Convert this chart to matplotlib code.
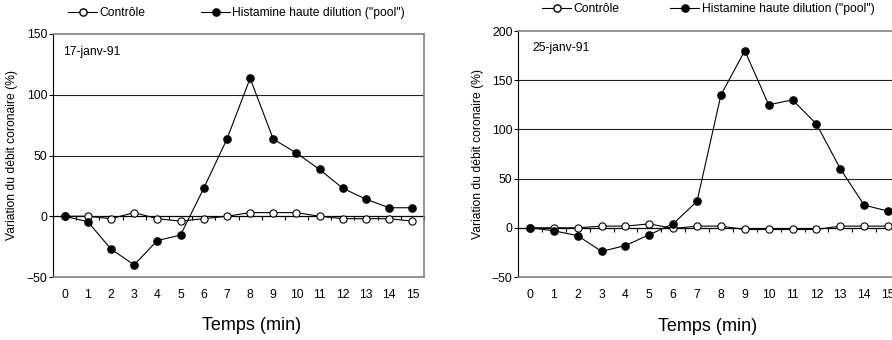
import numpy as np
import matplotlib as mpl
mpl.use("Agg")
import matplotlib.pyplot as plt
from matplotlib.lines import Line2D

plt.rcParams['font.family'] = ['Liberation Sans', 'DejaVu Sans']

# ── data ─────────────────────────────────────────────────────────────────────
temps = list(range(16))

date_1 = "17-janv-91"
controle_1 = [0, 0, -2, 3, -2, -4, -2, 0, 3, 3, 3, 0, -2, -2, -2, -4]
histamine_1 = [0, -4.5, -27, -40, -20, -15.5, 23, 63.5, 113.5, 63.5, 52, 38.5,
               23, 14, 7, 7]

date_2 = "25-janv-91"
controle_2 = [0, 0, 0, 1.7, 1.7, 4, -0.7, 1.7, 1.7, -1.7, -1.7, -1.7, -1.7,
              1.7, 1.7, 1.7]
histamine_2 = [0, -3, -8, -24, -18, -7, 4, 27, 135, 180, 125, 130, 105.5,
               60, 23, 17]

labels = ['Contrôle', 'Histamine haute dilution ("pool")']
ylabel = "Variation du débit coronaire (%)"
xlabel = "Temps (min)"

FS = 8.7
BORDER = '#808080'


def draw_panel(ax, ctrl, hist, date, ylim, yticks, date_xy, xlab_xy, ylab_x):
    ax.set_xlim(-0.5, len(temps) - 0.5)
    ax.set_ylim(*ylim)

    # gridlines at majors (excluding bottom/top)
    for yv in yticks[1:-1]:
        if yv != 0:
            ax.axhline(yv, color='#222222', lw=0.8, zorder=1)

    ax.plot(temps, ctrl, '-o', color='black', mfc='white', mec='black',
            ms=5.2, lw=0.8, mew=0.8, zorder=3, clip_on=False)
    ax.plot(temps, hist, '-o', color='black', mfc='black', mec='black',
            ms=5.2, lw=0.8, zorder=4, clip_on=False)

    # spines: plot area border grey, value axis black
    for s in ('top', 'right', 'bottom'):
        ax.spines[s].set_color(BORDER)
        ax.spines[s].set_linewidth(1.2)
    ax.spines['left'].set_color('black')
    ax.spines['left'].set_linewidth(0.8)

    ax.set_yticks(yticks)
    ax.tick_params(axis='y', direction='out', length=3, width=0.8, pad=1,
                   labelsize=FS)
    ax.set_xticks(temps)
    ax.tick_params(axis='x', length=0, pad=9, labelsize=FS)

    # category axis crossing at zero, ticks between categories
    frac0 = (0 - ylim[0]) / (ylim[1] - ylim[0])
    sec = ax.secondary_xaxis(frac0)
    sec.set_xticks(np.arange(-0.5, len(temps), 1.0))
    sec.tick_params(direction='out', length=3, width=0.8, labelbottom=False)
    sec.spines['bottom'].set_color('black')
    sec.spines['bottom'].set_linewidth(0.9)

    ax.text(date_xy[0], date_xy[1], date, transform=ax.transAxes,
            fontsize=FS, ha='left', va='center')

    ax.set_ylabel(ylabel, fontsize=FS)
    ax.yaxis.set_label_coords(ylab_x, 0.5)
    ax.set_xlabel(xlabel, fontsize=13, va='center')
    ax.xaxis.set_label_coords(*xlab_xy)


fig = plt.figure(figsize=(8.92, 3.40), dpi=100)
ax1 = fig.add_axes([53 / 892, 63 / 340, 371 / 892, 243 / 340])
ax2 = fig.add_axes([518 / 892, 63 / 340, 382 / 892, 246 / 340])

draw_panel(ax1, controle_1, histamine_1, date_1, (-50, 150),
           [-50, 0, 50, 100, 150], (0.027, 0.926), (0.536, -0.198), -0.094)
draw_panel(ax2, controle_2, histamine_2, date_2, (-50, 200),
           [-50, 0, 50, 100, 150, 200], (0.037, 0.931), (0.495, -0.203), -0.089)

# legends above each panel
def add_legend(x0, y, gap):
    handles = [
        Line2D([0], [0], color='black', lw=0.8, marker='o', mfc='white',
               mec='black', ms=5.2),
        Line2D([0], [0], color='black', lw=0.8, marker='o', mfc='black',
               mec='black', ms=5.2),
    ]
    fig.legend(handles, labels, loc='center left',
               bbox_to_anchor=(x0 / 892, 1 - y / 340), frameon=False,
               ncol=2, fontsize=FS, handlelength=2.4, handletextpad=0.2,
               columnspacing=gap, borderpad=0, borderaxespad=0)

add_legend(68, 13, 4.6)
add_legend(542, 9, 4.2)

fig.savefig("out.png", dpi=100)
